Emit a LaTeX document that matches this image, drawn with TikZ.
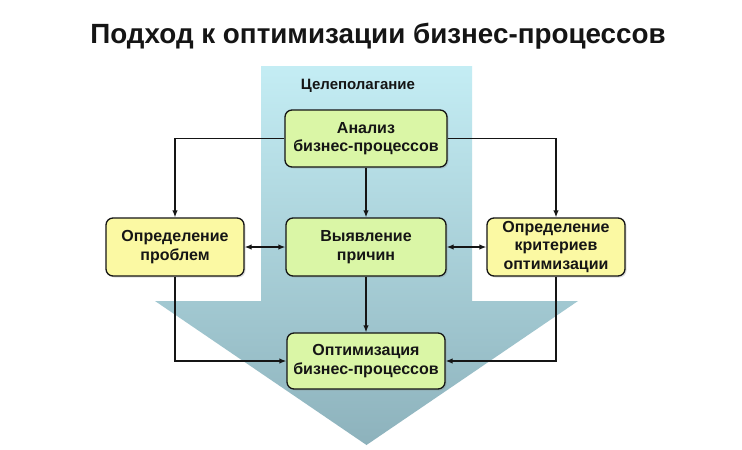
\documentclass[tikz,border=0pt]{standalone}
\usepackage{fontspec}
\setmainfont{Liberation Sans}
\usetikzlibrary{arrows.meta,shadows}
\definecolor{boxgreen}{HTML}{DAF6A6}
\definecolor{boxyellow}{HTML}{FBF9A3}
\definecolor{arrtop}{HTML}{C4EDF4}
\definecolor{arrbot}{HTML}{8DB2BC}
\definecolor{ink}{HTML}{151515}
\tikzset{
  procbox/.style={rectangle, rounded corners=7pt, draw=ink, line width=1.3pt,
    align=center, text=ink, font=\bfseries\fontsize{16}{18.5}\selectfont,
    inner sep=1pt, drop shadow={opacity=0.25, shadow xshift=1.5pt, shadow yshift=-1.5pt}},
  greenbox/.style={procbox, fill=boxgreen},
  yellowbox/.style={procbox, fill=boxyellow},
  conn/.style={draw=ink, line width=1.3pt, -{Latex[length=7pt,width=5.5pt]}},
  dconn/.style={draw=ink, line width=1.3pt, {Latex[length=7pt,width=5.5pt]}-{Latex[length=7pt,width=5.5pt]}}
}
\begin{document}
\begin{tikzpicture}[x=1pt,y=-1pt]
\useasboundingbox (0,0) rectangle (742,450);
\fill[white] (0,0) rectangle (742,450);
% big arrow
\shade[top color=arrtop, bottom color=arrbot]
  (261,66) -- (472,66) -- (472,301) -- (578,301) -- (366.5,445) -- (155,301) -- (261,301) -- cycle;
% title
\node[font=\bfseries\fontsize{27.8}{32}\selectfont, text=ink] (title) at (378,36) {Подход к оптимизации бизнес-процессов};
\node[font=\bfseries\fontsize{15}{18}\selectfont, text=ink] (goal) at (358,86) {Целеполагание};
% boxes
\node[greenbox, minimum width=162pt, minimum height=57pt] (an) at (366,138.5) {Анализ\\бизнес-процессов};
\node[yellowbox, minimum width=138pt, minimum height=58pt] (pr) at (175,247) {Определение\\проблем};
\node[greenbox, minimum width=160pt, minimum height=58pt] (vy) at (366,247) {Выявление\\причин};
\node[yellowbox, minimum width=138pt, minimum height=58pt] (kr) at (556,247) {Определение\\критериев\\оптимизации};
\node[greenbox, minimum width=158pt, minimum height=56pt] (op) at (366,361) {Оптимизация\\бизнес-процессов};
% connectors
\draw[conn] (an.west) -| (pr.north);
\draw[conn] (an.east) -| (kr.north);
\draw[conn] (an.south) -- (vy.north);
\draw[dconn] (pr.east) -- (vy.west);
\draw[dconn] (vy.east) -- (kr.west);
\draw[conn] (vy.south) -- (op.north);
\draw[conn] (pr.south) |- (op.west);
\draw[conn] (kr.south) |- (op.east);
\end{tikzpicture}
\end{document}
